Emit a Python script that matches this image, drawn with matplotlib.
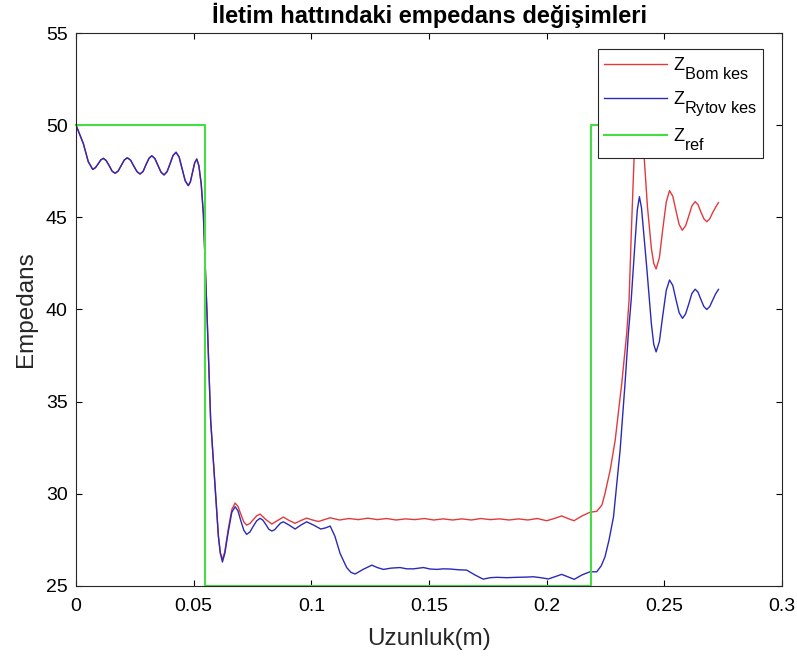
import matplotlib
matplotlib.use("Agg")
import matplotlib.pyplot as plt
import matplotlib._mathtext as _mt

# MATLAB-like large, lowered subscripts in the legend
_mt.SHRINK_FACTOR = 0.9
_mt.FontConstantsBase.sub1 = 0.9

plt.rcParams['font.family'] = ['Liberation Sans', 'DejaVu Sans']
plt.rcParams['mathtext.fontset'] = 'custom'
plt.rcParams['mathtext.rm'] = 'Liberation Sans'
plt.rcParams['mathtext.it'] = 'Liberation Sans'

title = "İletim hattındaki empedans değişimleri"
xlabel = "Uzunluk(m)"
ylabel = "Empedans"
labels = [r"$\mathrm{Z}_{\mathrm{Bom\ kes}}$", r"$\mathrm{Z}_{\mathrm{Rytov\ kes}}$", r"$\mathrm{Z}_{\mathrm{ref}}$"]

xticks = [0, 0.05, 0.1, 0.15, 0.2, 0.25, 0.3]
xticklabels = ["0", "0.05", "0.1", "0.15", "0.2", "0.25", "0.3"]
yticks = [25, 30, 35, 40, 45, 50, 55]

# common starting section (both curves coincide here)
x_start = [0, 0.0031, 0.0052, 0.0071, 0.0082, 0.0094, 0.0105, 0.0116, 0.0128, 0.0141,
           0.0153, 0.0166, 0.0179, 0.0192, 0.0205, 0.0218, 0.0232, 0.0245, 0.0259, 0.0272,
           0.0285, 0.0297, 0.0310, 0.0322, 0.0335, 0.0348, 0.0361, 0.0374, 0.0387, 0.0400,
           0.0412, 0.0425, 0.0438, 0.0451, 0.0464, 0.0477, 0.0486, 0.0495, 0.0504, 0.0513,
           0.0522, 0.0532, 0.0541, 0.0557, 0.0572, 0.0591, 0.0605, 0.0613]
y_start = [50, 49.0, 48.02, 47.6, 47.69, 47.9, 48.11, 48.2, 48.08, 47.8,
           47.51, 47.39, 47.51, 47.81, 48.11, 48.23, 48.1, 47.79, 47.48, 47.35,
           47.49, 47.85, 48.2, 48.34, 48.19, 47.82, 47.45, 47.3, 47.48, 47.92,
           48.35, 48.53, 48.27, 47.63, 46.98, 46.72, 46.93, 47.44, 47.95, 48.16,
           47.8, 46.8, 45.2, 39.6, 34.0, 30.4, 27.7, 26.8]

x_bom_rest = [0.0622, 0.0632, 0.0647, 0.0662, 0.0676, 0.0688, 0.0700, 0.0713, 0.0725, 0.0739,
              0.0753, 0.0768, 0.0782, 0.0807, 0.0832, 0.0856, 0.0881, 0.0906, 0.0931, 0.0955,
              0.0980, 0.1005, 0.1030, 0.1055, 0.1080,
              0.112, 0.116, 0.120, 0.124, 0.128, 0.132, 0.136, 0.140, 0.144, 0.148,
              0.152, 0.156, 0.160, 0.164, 0.168, 0.172, 0.176, 0.180, 0.184, 0.188,
              0.192, 0.196, 0.2000, 0.2032, 0.2064, 0.2090, 0.2116, 0.2150, 0.2184, 0.2213,
              0.2235, 0.2248, 0.2270, 0.2291, 0.2319, 0.2340, 0.2350, 0.2360, 0.2371, 0.2382,
              0.2392, 0.2402, 0.2415, 0.2428, 0.2445, 0.2455, 0.2465, 0.2479, 0.2493, 0.2508,
              0.2522, 0.2536, 0.2549, 0.2563, 0.2576, 0.2590, 0.2604, 0.2617, 0.2631, 0.2643,
              0.2655, 0.2668, 0.2680, 0.2693, 0.2705, 0.2718, 0.2730]
y_bom_rest = [26.45, 26.85, 28.1, 29.15, 29.5, 29.32, 28.9, 28.48, 28.3, 28.39,
              28.6, 28.81, 28.9, 28.6, 28.36, 28.55, 28.74, 28.55, 28.4, 28.55,
              28.68, 28.58, 28.5, 28.6, 28.7,
              28.58, 28.66, 28.6, 28.68, 28.6, 28.66, 28.58, 28.64, 28.6, 28.66,
              28.58, 28.64, 28.58, 28.64, 28.58, 28.66, 28.6, 28.64, 28.58, 28.64,
              28.58, 28.66, 28.54, 28.66, 28.8, 28.66, 28.54, 28.8, 29.0, 29.05,
              29.4, 30.03, 31.3, 32.9, 35.99, 38.7, 40.5, 44.3, 48.1, 50.5,
              51.2, 50.3, 48.1, 45.6, 43.3, 42.5, 42.2, 42.82, 44.33, 45.83,
              46.45, 46.14, 45.38, 44.61, 44.3, 44.53, 45.08, 45.62, 45.85, 45.69,
              45.3, 44.92, 44.76, 44.92, 45.25, 45.55, 45.8]

x_rytov_rest = [0.0622, 0.0632, 0.0647, 0.0662, 0.0676, 0.0688, 0.0700, 0.0713, 0.0725, 0.0739,
                0.0753, 0.0768, 0.0782, 0.0794, 0.0807, 0.0819, 0.0832, 0.0844, 0.0856, 0.0869,
                0.0881, 0.0906, 0.0931, 0.0955, 0.0980, 0.1010, 0.1040, 0.1060, 0.1080, 0.1100,
                0.1122, 0.1150, 0.1168, 0.1186, 0.1220, 0.1257, 0.1280, 0.1306, 0.1340, 0.1377,
                0.1405, 0.1434, 0.1476, 0.1505, 0.1533, 0.1560, 0.1590, 0.1625, 0.1660, 0.1695,
                0.1730, 0.1760, 0.1788, 0.1830, 0.1873, 0.1910, 0.1943, 0.1975, 0.2007, 0.2035,
                0.2064, 0.2090, 0.2117, 0.2150, 0.2184, 0.2213, 0.2232, 0.2248, 0.2265, 0.2284,
                0.2312, 0.2333, 0.2347, 0.2359, 0.2376, 0.2385, 0.2394, 0.2403, 0.2412, 0.2425,
                0.2445, 0.2455, 0.2465, 0.2479, 0.2493, 0.2508, 0.2522, 0.2536, 0.2549, 0.2563,
                0.2577, 0.2590, 0.2604, 0.2617, 0.2631, 0.2643, 0.2655, 0.2668, 0.2680, 0.2693,
                0.2705, 0.2718, 0.2730]
y_rytov_rest = [26.3, 26.75, 27.95, 29.0, 29.3, 29.08, 28.55, 28.02, 27.8, 27.93,
                28.24, 28.54, 28.67, 28.57, 28.33, 28.08, 27.98, 28.05, 28.23, 28.41,
                28.48, 28.3, 28.09, 28.3, 28.48, 28.3, 28.09, 28.15, 28.25, 27.7,
                26.77, 26.0, 25.74, 25.65, 25.9, 26.13, 26.0, 25.9, 25.97, 26.0,
                25.93, 25.93, 26.0, 25.92, 25.9, 25.93, 25.92, 25.88, 25.86, 25.6,
                25.37, 25.45, 25.47, 25.45, 25.47, 25.48, 25.5, 25.45, 25.38, 25.5,
                25.63, 25.5, 25.36, 25.6, 25.77, 25.77, 26.1, 26.59, 27.5, 28.76,
                32.37, 36.0, 38.7, 40.5, 43.77, 45.4, 46.12, 45.5, 44.2, 42.3,
                39.2, 38.1, 37.7, 38.27, 39.65, 41.03, 41.6, 41.3, 40.56, 39.82,
                39.52, 39.75, 40.31, 40.87, 41.1, 40.94, 40.55, 40.16, 40.0, 40.16,
                40.5, 40.85, 41.09]

x_ref = [0, 0.0548, 0.0548, 0.2189, 0.2189, 0.2735]
y_ref = [50, 50, 25, 25, 50, 50]

fig = plt.figure(figsize=(7.97, 6.64), dpi=100)
ax = fig.add_axes([0.0954, 0.1175, 0.8858, 0.8328])

ax.plot(x_start + x_bom_rest, y_start + y_bom_rest, color='#e23a3c', lw=1.0, label=labels[0])
ax.plot(x_start + x_rytov_rest, y_start + y_rytov_rest, color='#2a2ab8', lw=1.0, label=labels[1])
ax.plot(x_ref, y_ref, color='#44dd44', lw=1.5, label=labels[2], clip_on=False)

ax.set_xlim(0, 0.3)
ax.set_ylim(25, 55)
ax.set_xticks(xticks)
ax.set_xticklabels(xticklabels)
ax.set_yticks(yticks)
ax.tick_params(direction='in', top=True, right=True, labelsize=14, length=4.5, width=0.8)
ax.tick_params(axis='x', pad=9)
ax.tick_params(axis='y', pad=6)
for s in ax.spines.values():
    s.set_linewidth(0.8)
    s.set_color('#262626')

ax.set_xlabel(xlabel, fontsize=17.5, labelpad=9, color='#262626')
ax.set_ylabel(ylabel, fontsize=17.5, labelpad=6, color='#262626')
ax.set_title(title, fontsize=17, fontweight='bold', pad=7)

leg = ax.legend(loc='upper right', bbox_to_anchor=(0.973, 0.971), borderaxespad=0,
                fontsize=13, frameon=True, fancybox=False,
                edgecolor='#262626', framealpha=1.0,
                handlelength=3.5, handletextpad=0.3, labelspacing=0.45, borderpad=0.35)
leg.get_frame().set_linewidth(0.8)

fig.savefig("out.png", dpi=100)
